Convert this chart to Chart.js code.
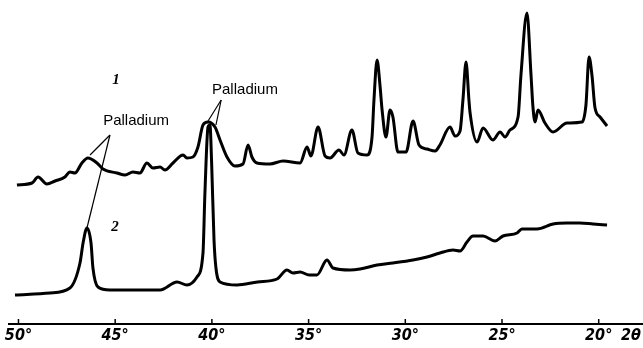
<!DOCTYPE html>
<html>
<head>
<meta charset="utf-8">
<script src="https://cdn.jsdelivr.net/npm/chart.js@4.4.1/dist/chart.umd.min.js"></script>
<style>
  html, body { margin: 0; padding: 0; background: #fff; }
  #wrap { width: 643px; height: 348px; }
</style>
</head>
<body>
<div id="wrap"><canvas id="xrd"></canvas></div>
<script>
// trace 1 (upper pattern)
const twoTheta1 = [50.08,49.30,48.99,48.53,48.11,47.60,47.34,47.08,46.72,46.41,45.94,45.63,44.91,44.49,44.08,43.72,43.36,43.05,42.68,42.43,42.01,41.49,41.29,40.98,40.72,40.46,40.20,39.84,39.58,39.22,38.81,38.39,38.13,37.93,37.67,37.00,36.32,35.44,35.08,34.88,34.51,34.15,33.89,33.43,33.17,32.76,32.45,31.98,31.72,31.62,31.46,31.31,31.20,31.00,30.79,30.64,30.38,29.96,29.60,29.29,28.88,28.46,28.21,27.69,27.43,27.17,27.02,26.86,26.71,26.65,26.29,25.98,25.47,25.10,24.84,24.59,24.17,24.02,23.71,23.50,23.40,23.29,23.14,22.78,22.36,21.64,20.86,20.66,20.50,20.35,20.19,19.93,19.57];
const counts1 = [146,148,154,147,150,154,159,158,168,173,168,162,158,156,159,158,168,163,164,161,168,176,173,174,184,206,209,204,191,174,165,167,186,174,168,167,170,168,184,175,204,175,173,181,176,201,178,176,194,231,271,246,221,194,221,214,179,179,210,186,182,180,186,204,195,200,231,269,231,218,189,203,191,199,194,201,214,256,318,256,224,209,221,208,199,208,209,226,274,256,223,214,205];

// trace 2 (lower pattern)
const twoTheta2 = [50.18,48.37,47.34,46.82,46.66,46.46,46.25,46.15,45.89,45.27,43.98,42.68,41.80,41.29,40.77,40.46,40.36,40.20,40.10,40.01,39.89,39.79,39.58,38.70,37.64,36.63,36.12,35.81,35.44,34.97,34.57,34.05,33.74,32.86,32.34,31.46,30.64,29.60,28.88,28.21,27.53,27.17,26.81,26.50,25.98,25.36,24.95,24.22,23.97,23.19,22.36,21.64,20.97,20.29,19.57];
const counts2 = [36,38,43,68,88,103,88,63,44,41,41,41,49,46,54,78,138,204,206,166,91,63,49,46,49,52,61,58,59,56,56,71,63,61,62,66,68,71,74,78,81,80,89,95,95,90,95,98,102,102,107,108,108,107,106];

const tickValues = [50, 45, 40, 35, 30, 25, 20];
const tickLabels = ["50°", "45°", "40°", "35°", "30°", "25°", "20°"];
const axisTitleValue = 18.33;
const axisTitle = "2θ";

// annotations, in (2θ, counts)
const noteText = ["Palladium", "Palladium", "1", "2"];
const noteAt = [[43.92, 210], [38.29, 241], [44.96, 251], [45.01, 104]];
const leaderFrom = [[45.27, 196], [45.27, 196], [39.52, 231], [39.52, 231]];
const leaderTo = [[46.30, 176], [46.46, 103], [40.20, 210], [39.79, 206]];

function toPoints(xs, ys) {
    return xs.map((x, i) => ({x: x, y: ys[i]}));
}

const markings = {
    id: 'markings',
    afterDatasetsDraw(chart) {
        const {ctx, chartArea} = chart;
        const x = chart.scales.x, y = chart.scales.y;
        ctx.save();
        ctx.strokeStyle = '#000';
        ctx.lineWidth = 1.5;
        tickValues.forEach(v => {
            const px = x.getPixelForValue(v);
            ctx.beginPath();
            ctx.moveTo(px, chartArea.bottom);
            ctx.lineTo(px, chartArea.bottom - 5);
            ctx.stroke();
        });

        ctx.lineWidth = 1.2;
        leaderFrom.forEach((f, i) => {
            const t = leaderTo[i];
            ctx.beginPath();
            ctx.moveTo(x.getPixelForValue(f[0]), y.getPixelForValue(f[1]));
            ctx.lineTo(x.getPixelForValue(t[0]), y.getPixelForValue(t[1]));
            ctx.stroke();
        });

        ctx.fillStyle = '#000';
        ctx.textAlign = 'center';
        ctx.textBaseline = 'middle';
        noteText.forEach((txt, i) => {
            ctx.font = txt.length > 1 ? '15px "Liberation Sans"' : 'bold italic 15px "Liberation Serif"';
            ctx.fillText(txt, x.getPixelForValue(noteAt[i][0]), y.getPixelForValue(noteAt[i][1]));
        });
        ctx.restore();
    }
};

new Chart(document.getElementById('xrd'), {
    type: 'line',
    data: {
        datasets: [{
            label: '1',
            data: toPoints(twoTheta1, counts1),
            borderColor: '#000',
            borderWidth: 3,
            pointRadius: 0,
            cubicInterpolationMode: 'monotone',
            borderJoinStyle: 'round'
        }, {
            label: '2',
            data: toPoints(twoTheta2, counts2),
            borderColor: '#000',
            borderWidth: 3,
            pointRadius: 0,
            cubicInterpolationMode: 'monotone',
            borderJoinStyle: 'round'
        }]
    },
    options: {
        responsive: true,
        maintainAspectRatio: false,
        animation: false,
        layout: { padding: { left: 9, right: 0, top: 0, bottom: 0 } },
        plugins: { legend: { display: false }, tooltip: { enabled: false } },
        scales: {
            x: {
                type: 'linear',
                min: 17.71,
                max: 50.49,
                reverse: true,
                border: { color: '#000', width: 2 },
                grid: { display: true, drawOnChartArea: false, drawTicks: false },
                afterBuildTicks: scale => {
                    scale.ticks = tickValues.concat([axisTitleValue]).map(v => ({value: v}));
                },
                afterFit: scale => {
                    scale.height = 24;
                    scale.paddingLeft = 0;
                    scale.paddingRight = 0;
                },
                ticks: {
                    autoSkip: false,
                    maxRotation: 0,
                    padding: 4,
                    color: '#000',
                    font: { family: '"DejaVu Sans Condensed", "DejaVu Sans"', size: 16, style: 'italic', weight: 'bold', lineHeight: 1 },
                    callback: (value, i) => i < tickLabels.length ? tickLabels[i] : axisTitle
                }
            },
            y: {
                display: false,
                min: 7,
                max: 331
            }
        }
    },
    plugins: [markings]
});
</script>
</body>
</html>
